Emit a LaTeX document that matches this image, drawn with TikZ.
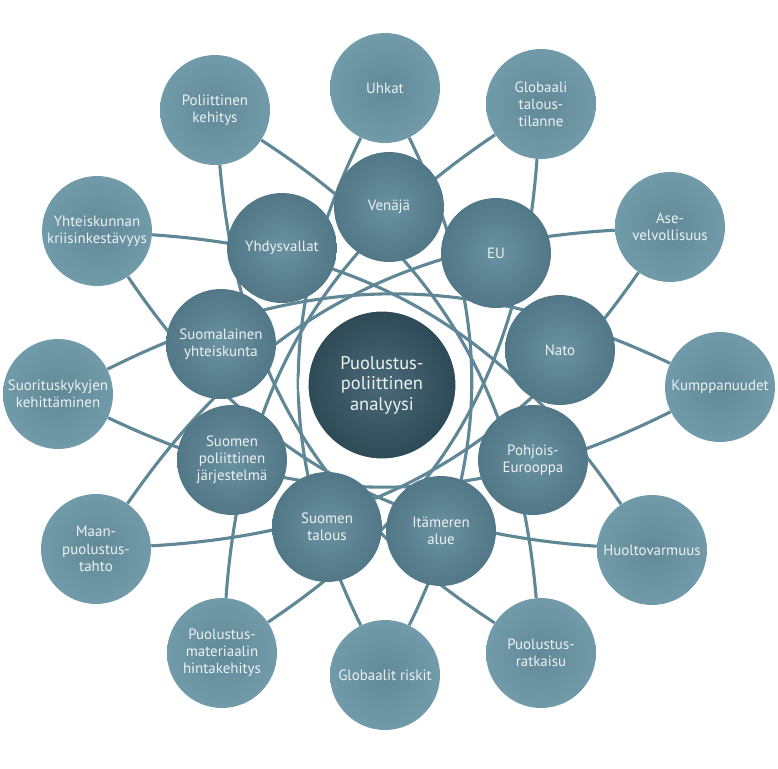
\documentclass[tikz,border=0pt]{standalone}
\usepackage{fontspec}
\setmainfont{PT Sans}
\usetikzlibrary{backgrounds}
\definecolor{petrol}{RGB}{96,135,150}
\definecolor{outerin}{RGB}{97,137,152}
\definecolor{outerout}{RGB}{114,155,170}
\definecolor{ballin}{RGB}{106,146,161}
\definecolor{ballout}{RGB}{82,119,135}
\definecolor{corein}{RGB}{74,105,118}
\definecolor{coreout}{RGB}{44,72,85}
\definecolor{ink}{RGB}{236,242,244}

\begin{document}
\begin{tikzpicture}[
         x=0.02cm, y=-0.02cm,
         ball/.style={circle, inner sep=0pt, minimum size=2.2cm, align=center,
            inner color=ballin, outer color=ballout, text=ink,
            font=\fontsize{8.5}{9.8}\selectfont},
         topic/.style={ball, inner color=outerin, outer color=outerout},
         core/.style={ball, minimum size=3.13cm, draw=white, line width=0.19cm,
            inner color=corein, outer color=coreout,
            font=\fontsize{10.5}{11.6}\selectfont},
         link/.style={draw=petrol, line width=0.062cm}
      ]
         \useasboundingbox (0,0) rectangle (778,768);

         % Outer ring
         \node[topic] (uhkat) at (385,88) {Uhkat};
         \node[topic] (globtalous) at (541,104) {Globaali\\talous-\\tilanne};
         \node[topic] (ase) at (670,227) {Ase-\\velvollisuus};
         \node[topic] (kumppanit) at (720,387) {Kumppanuudet};
         \node[topic] (huolto) at (652,550) {Huoltovarmuus};
         \node[topic] (ratkaisu) at (541,653) {Puolustus-\\ratkaisu};
         \node[topic] (riskit) at (385,675) {Globaalit riskit};
         \node[topic] (hinta) at (222,653) {Puolustus-\\materiaalin\\hintakehitys};
         \node[topic] (tahto) at (96,549) {Maan-\\puolustus-\\tahto};
         \node[topic] (suorituskyky) at (58,394) {Suorituskykyjen\\kehittäminen};
         \node[topic] (kriisi) at (97,231) {Yhteiskunnan\\kriisinkestävyys};
         \node[topic] (kehitys) at (215,110) {Poliittinen\\kehitys};

         % Inner ring
         \node[ball] (venaja) at (389,207) {Venäjä};
         \node[ball] (eu) at (496,253) {EU};
         \node[ball] (nato) at (560,350) {Nato};
         \node[ball] (pohjois) at (533,460) {Pohjois-\\Eurooppa};
         \node[ball] (itameri) at (441,531) {Itämeren\\alue};
         \node[ball] (talous) at (327,527) {Suomen\\talous};
         \node[ball] (jarjestelma) at (232,460) {Suomen\\poliittinen\\järjestelmä};
         \node[ball] (yhteiskunta) at (221,344) {Suomalainen\\yhteiskunta};
         \node[ball] (usa) at (282,248) {Yhdysvallat};

         % Centre
         \node[core] (analyysi) at (382,385) {Puolustus-\\poliittinen\\analyysi};

         % Arcs between opposite outer circles
         \begin{scope}[on background layer]
            \foreach \src/\dst in {uhkat/riskit, globtalous/hinta, ase/tahto,
                  kumppanit/suorituskyky, huolto/kriisi, ratkaisu/kehitys}
               \draw[link] (\src) to[bend left=26] (\dst)
                           (\src) to[bend right=26] (\dst);
         \end{scope}
      \end{tikzpicture}
\end{document}
